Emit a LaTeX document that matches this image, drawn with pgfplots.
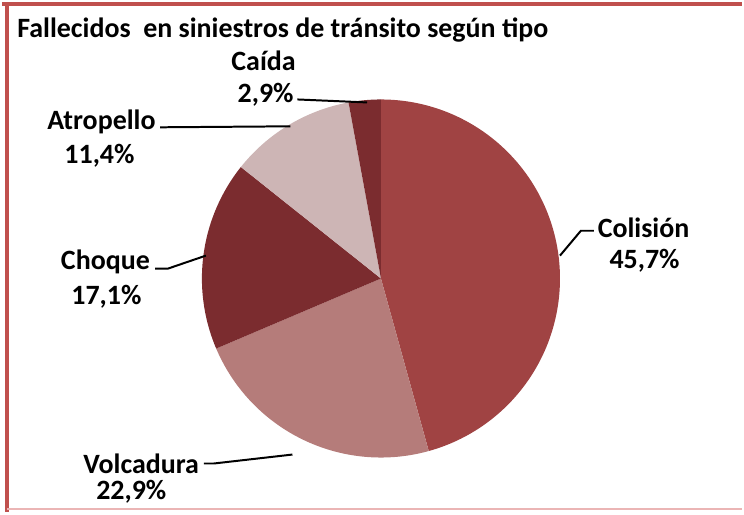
\documentclass[border=0pt]{standalone}
\usepackage{pgfplots}
\pgfplotsset{compat=1.18}
\usepackage{fontspec}
\setmainfont{Carlito}
\definecolor{colision}{HTML}{A04343}
\definecolor{volcadura}{HTML}{B57C7A}
\definecolor{choque}{HTML}{7B2C2F}
\definecolor{atropello}{HTML}{CDB5B5}
\definecolor{caida}{HTML}{7B2C2F}
\definecolor{frame}{HTML}{C0504D}
\definecolor{framelight}{HTML}{EBB5B5}

% shares in percent, clockwise from 12 o'clock
\def\pColision{45.7}
\def\pVolcadura{22.9}
\def\pChoque{17.1}
\def\pAtropello{11.4}
\def\pCaida{2.9}

\begin{document}
\begin{tikzpicture}
\pgfmathsetmacro\aA{90}
\pgfmathsetmacro\aB{\aA-3.6*\pColision}
\pgfmathsetmacro\aC{\aB-3.6*\pVolcadura}
\pgfmathsetmacro\aD{\aC-3.6*\pChoque}
\pgfmathsetmacro\aE{\aD-3.6*\pAtropello}
\pgfmathsetmacro\aF{\aE-3.6*\pCaida}
\def\cx{381}\def\cy{235}\def\r{180}
\begin{axis}[
  x=0.5bp, y=0.5bp,
  xmin=0, xmax=744, ymin=0, ymax=515,
  hide axis, clip=false,
  every axis plot/.append style={draw=none, samples=90, smooth},
]
\path (rel axis cs:0,0) rectangle (rel axis cs:1,1);
\addplot[fill=colision, domain=\aA:\aB] ({\cx+\r*cos(x)},{\cy+\r*sin(x)}) -- (axis cs:\cx,\cy) -- cycle;
\addplot[fill=volcadura, domain=\aB:\aC] ({\cx+\r*cos(x)},{\cy+\r*sin(x)}) -- (axis cs:\cx,\cy) -- cycle;
\addplot[fill=choque, domain=\aC:\aD] ({\cx+\r*cos(x)},{\cy+\r*sin(x)}) -- (axis cs:\cx,\cy) -- cycle;
\addplot[fill=atropello, domain=\aD:\aE] ({\cx+\r*cos(x)},{\cy+\r*sin(x)}) -- (axis cs:\cx,\cy) -- cycle;
\addplot[fill=caida, domain=\aE:\aF] ({\cx+\r*cos(x)},{\cy+\r*sin(x)}) -- (axis cs:\cx,\cy) -- cycle;

% frame
\draw[frame, line width=2bp] (axis cs:0,511) -- (axis cs:744,511);
\draw[frame, line width=2bp] (axis cs:5,511) -- (axis cs:5,0);
\draw[framelight, line width=1.2bp] (axis cs:5,3) -- (axis cs:744,3);

% title
\node[anchor=base west, font=\bfseries\fontsize{14.1}{16}\selectfont, inner sep=0pt]
  at (axis cs:15,477) {Fallecidos \ en siniestros de tránsito según tipo};

% leader lines
\draw[black, line width=1bp] (axis cs:561,258) -- (axis cs:582,283) -- (axis cs:595,283);
\draw[black, line width=1bp] (axis cs:203,49) -- (axis cs:213,49) -- (axis cs:292,58);
\draw[black, line width=1bp] (axis cs:154,245) -- (axis cs:167,245) -- (axis cs:205,258);
\draw[black, line width=1bp] (axis cs:159,387) -- (axis cs:290,388);
\draw[black, line width=1bp] (axis cs:297,415) -- (axis cs:367,412);

% labels
\tikzset{lbl/.style={font=\bfseries\fontsize{14.1}{16}\selectfont, inner sep=0pt, align=center}}
\node[lbl] at (axis cs:645,286) {Colisión};
\node[lbl] at (axis cs:646,253) {45,7\%};
\node[lbl] at (axis cs:140,49) {Volcadura};
\node[lbl] at (axis cs:130,21) {22,9\%};
\node[lbl] at (axis cs:104,252) {Choque};
\node[lbl] at (axis cs:105,217) {17,1\%};
\node[lbl] at (axis cs:100,392) {Atropello};
\node[lbl] at (axis cs:98,358) {11,4\%};
\node[lbl] at (axis cs:263,454) {Caída};
\node[lbl] at (axis cs:265,420) {2,9\%};
\end{axis}
\end{tikzpicture}
\end{document}
